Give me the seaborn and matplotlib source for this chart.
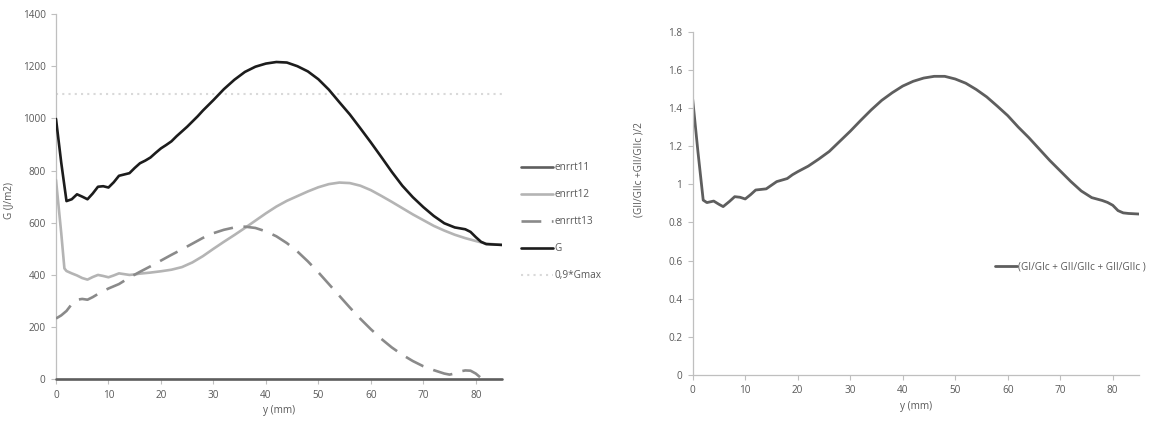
import numpy as np
import pandas as pd
import seaborn as sns
import matplotlib
matplotlib.use("Agg")
import matplotlib.pyplot as plt
from matplotlib.lines import Line2D

# ---- G components along the crack front, y in mm, G in J/m2 ----
y_G = [0, 1, 2, 3, 4, 5, 6, 7, 8, 9, 10, 11, 12, 13, 14, 15, 16, 17, 18, 19, 20,
       21, 22, 23, 24, 25, 26, 27, 28, 29, 30, 32, 34, 36, 38, 40, 42, 44, 46, 48,
       50, 52, 54, 56, 58, 60, 62, 64, 66, 68, 70, 72, 74, 76, 78, 79, 80, 81, 82,
       83, 85]
G_total = [998, 830, 683, 690, 709, 700, 690, 712, 738, 740, 735, 755, 780, 785, 790,
           810, 828, 838, 850, 868, 885, 898, 912, 932, 950, 968, 988, 1008, 1030,
           1050, 1070, 1112, 1148, 1178, 1198, 1210, 1216, 1214, 1200, 1180, 1150,
           1110, 1062, 1015, 962, 908, 852, 795, 742, 698, 660, 626, 598, 582, 575,
           565, 545, 527, 518, 517, 515]

y_12 = [0, 1, 1.6, 2, 3, 4, 5, 6, 7, 8, 9, 10, 11, 12, 13, 14, 15, 16, 18, 20, 22,
        24, 26, 28, 30, 32, 34, 36, 38, 40, 42, 44, 46, 48, 50, 52, 54, 56, 58, 60,
        62, 64, 66, 68, 70, 72, 74, 76, 78, 80, 82, 85]
enrrt12 = [764, 560, 425, 415, 406, 398, 388, 382, 392, 400, 396, 391, 398, 406, 403,
           400, 402, 405, 409, 414, 420, 430, 448, 472, 500, 527, 553, 580, 608, 636,
           662, 684, 702, 720, 736, 748, 754, 752, 742, 725, 703, 680, 656, 632, 610,
           588, 570, 554, 541, 530, 520, 515]

y_13 = [0, 1, 2, 3, 4, 5, 6, 7, 8, 9, 10, 12, 14, 16, 18, 20, 22, 24, 26, 28, 30, 32,
        34, 36, 38, 40, 42, 44, 46, 48, 50, 52, 54, 56, 58, 60, 62, 64, 66, 68, 70,
        72, 74, 75, 76, 77, 78, 79, 80, 81]
enrrtt13 = [233, 245, 262, 288, 305, 308, 305, 315, 327, 338, 348, 365, 390, 412, 433,
            455, 477, 498, 520, 542, 560, 573, 582, 585, 580, 567, 548, 522, 490, 452,
            410, 365, 320, 275, 232, 192, 155, 122, 94, 70, 50, 35, 22, 18, 22, 30, 34,
            33, 22, 5]

y_11 = [0, 85]
enrrt11 = [0, 0]

# ---- mixed-mode ratio ----
y_R = [0, 1, 2, 2.7, 4, 5, 5.8, 7, 8, 9, 10, 11, 12, 13, 14, 15, 16, 17, 18, 19, 20,
       22, 24, 26, 28, 30, 32, 34, 36, 38, 40, 42, 44, 46, 48, 50, 52, 54, 56, 58, 60,
       62, 64, 66, 68, 70, 72, 74, 76, 78, 79, 80, 81, 82, 83, 85]
ratio = [1.445, 1.17, 0.917, 0.904, 0.912, 0.895, 0.883, 0.91, 0.935, 0.932, 0.923,
         0.945, 0.970, 0.973, 0.976, 0.995, 1.014, 1.022, 1.03, 1.05, 1.066, 1.095,
         1.132, 1.172, 1.225, 1.278, 1.335, 1.39, 1.44, 1.48, 1.515, 1.54, 1.557,
         1.566, 1.566, 1.552, 1.53, 1.497, 1.458, 1.41, 1.36, 1.30, 1.245, 1.185,
         1.125, 1.07, 1.015, 0.965, 0.93, 0.915, 0.905, 0.89, 0.862, 0.85, 0.847,
         0.844]

left_yticks = [0, 200, 400, 600, 800, 1000, 1200, 1400]
right_yticks = [0, 0.2, 0.4, 0.6, 0.8, 1, 1.2, 1.4, 1.6, 1.8]
right_yticklabels = ["0", "0.2", "0.4", "0.6", "0.8", "1", "1.2", "1.4", "1.6", "1.8"]
xticks = [0, 10, 20, 30, 40, 50, 60, 70, 80]

sns.set_style("white")
plt.rcParams["font.family"] = ["Open Sans", "DejaVu Sans"]
plt.rcParams["font.size"] = 7.2
plt.rcParams["lines.solid_joinstyle"] = "round"
plt.rcParams["lines.dash_joinstyle"] = "round"
plt.rcParams["lines.solid_capstyle"] = "round"

TXT = "#595959"
AX = "#bfbfbf"
FS = 7.2

fig = plt.figure(figsize=(11.49, 4.25), dpi=100)
axL = fig.add_axes([56 / 1149, 1 - 379.3 / 425, 446 / 1149, 365.3 / 425])
axR = fig.add_axes([692.7 / 1149, 1 - 375 / 425, 446.3 / 1149, 343.3 / 425])

lw = 1.9
df11 = pd.DataFrame({"y": y_11, "G": enrrt11})
df12 = pd.DataFrame({"y": y_12, "G": enrrt12})
df13 = pd.DataFrame({"y": y_13, "G": enrrtt13})
dfG = pd.DataFrame({"y": y_G, "G": G_total})
gmax90 = 0.9 * max(G_total)
dfmax = pd.DataFrame({"y": [0, 85], "G": [gmax90, gmax90]})

sns.lineplot(data=dfmax, x="y", y="G", ax=axL, color="#d9d9d9", lw=1.5,
             linestyle=(0, (1, 2)), label="0,9*Gmax", zorder=2)
sns.lineplot(data=df12, x="y", y="G", ax=axL, color="#b4b4b4", lw=lw,
             label="enrrt12", zorder=3)
sns.lineplot(data=df13, x="y", y="G", ax=axL, color="#8a8a8a", lw=lw,
             linestyle=(0, (7.5, 4)), label="enrrtt13", zorder=3)
sns.lineplot(data=dfG, x="y", y="G", ax=axL, color="#1c1c1c", lw=lw,
             label="G", zorder=4)
sns.lineplot(data=df11, x="y", y="G", ax=axL, color="#5e5e5e", lw=lw,
             label="enrrt11", zorder=5, clip_on=False)

axL.set_xlim(0, 85)
axL.set_ylim(0, 1400)
axL.set_yticks(left_yticks)
axL.set_xticks(xticks)
axL.set_xlabel("y (mm)", color=TXT, fontsize=FS)
axL.set_ylabel("G (J/m2)", color=TXT, fontsize=FS)
axL.xaxis.set_label_coords(0.5, -0.07)
axL.yaxis.set_label_coords(-0.094, 0.49)

dfR = pd.DataFrame({"y": y_R, "r": ratio})
sns.lineplot(data=dfR, x="y", y="r", ax=axR, color="#5e5e5e", lw=2.0,
             label="(GI/GIc + GII/GIIc + GII/GIIc )")
axR.set_xlim(0, 85)
axR.set_ylim(0, 1.8)
axR.set_yticks(right_yticks)
axR.set_yticklabels(right_yticklabels)
axR.set_xticks(xticks)
axR.set_xlabel("y (mm)", color=TXT, fontsize=FS)
axR.set_ylabel("(GII/GIIc +GII/GIIc )/2", color=TXT, fontsize=FS)
axR.xaxis.set_label_coords(0.5, -0.075)
axR.yaxis.set_label_coords(-0.107, 0.597)

for ax in (axL, axR):
    sns.despine(ax=ax)
    for s in ("left", "bottom"):
        ax.spines[s].set_color(AX)
        ax.spines[s].set_linewidth(0.9)
    ax.tick_params(axis="both", which="major", bottom=True, left=True,
                   colors=AX, labelcolor=TXT, labelsize=FS,
                   length=3.5, width=0.8, direction="out", pad=4)
    ax.set_facecolor("white")

# legends
axL.get_legend().remove()
axR.get_legend().remove()

h = {
    "enrrt11": Line2D([], [], color="#5e5e5e", lw=lw),
    "enrrt12": Line2D([], [], color="#b4b4b4", lw=lw),
    "enrrtt13": Line2D([], [], color="#8a8a8a", lw=lw, linestyle=(0, (7.5, 4))),
    "G": Line2D([], [], color="#1c1c1c", lw=lw),
    "0,9*Gmax": Line2D([], [], color="#d9d9d9", lw=1.5, linestyle=(0, (1, 2))),
}
legL = fig.legend(list(h.values()), list(h.keys()), loc="upper left",
                  bbox_to_anchor=(512 / 1149, 1 - 153 / 425), frameon=False,
                  handlelength=3.2, handletextpad=0.15, labelspacing=1.6,
                  fontsize=FS, labelcolor=TXT)
legR = fig.legend([Line2D([], [], color="#5e5e5e", lw=2.0)],
                  ["(GI/GIc + GII/GIIc + GII/GIIc )"], loc="center left",
                  bbox_to_anchor=(986 / 1149, 1 - 267 / 425), frameon=False,
                  handlelength=2.2, handletextpad=0.15, fontsize=FS, labelcolor=TXT)

fig.savefig("out.png", dpi=100, facecolor="white")
